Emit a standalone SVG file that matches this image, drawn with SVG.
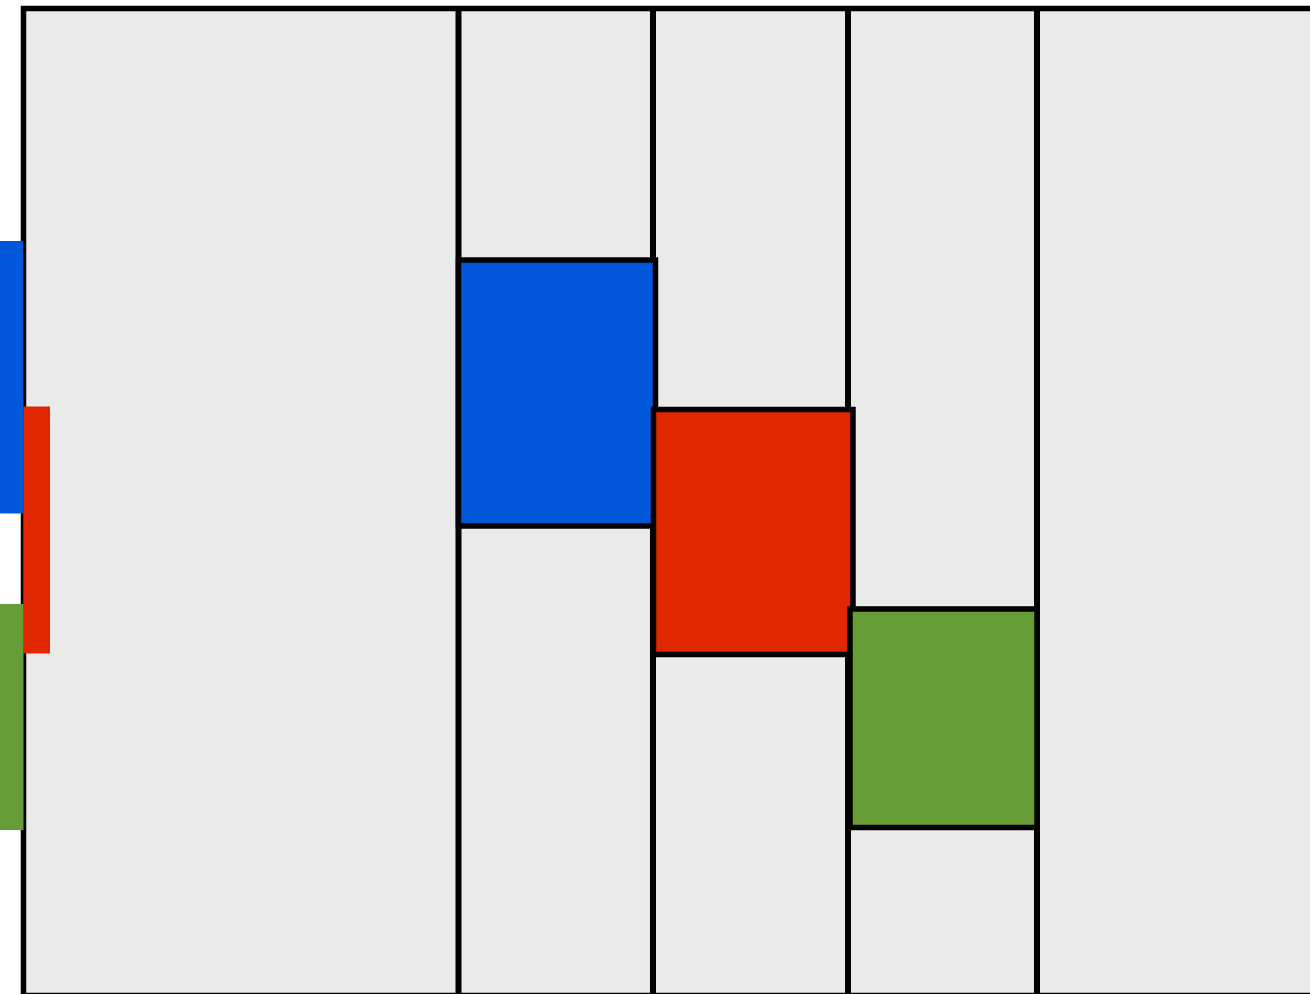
<svg xmlns="http://www.w3.org/2000/svg" width="1310" height="994" viewBox="0 0 1310 994">
<style>
.ln{stroke:#000;stroke-width:6;fill:none}
.box{stroke:#000;stroke-width:5.5}
</style>
<rect width="1310" height="994" fill="#fff"/>
<g id="frame">
<rect x="23.5" y="8.5" width="1300" height="987" fill="#eaeaea" class="box"/>
</g>
<g id="connectors">
<line class="ln" x1="458.5" y1="8" x2="458.5" y2="1000"/>
<line class="ln" x1="653" y1="8" x2="653" y2="1000"/>
<line class="ln" x1="848" y1="8" x2="848" y2="1000"/>
<line class="ln" x1="1037" y1="8" x2="1037" y2="1000"/>
</g>
<g id="blue-box"><rect class="box" x="458.5" y="260" width="197" height="266" fill="#0057d9"/></g>
<g id="red-box"><rect class="box" x="653.5" y="409.5" width="199.5" height="245" fill="#e02700"/></g>
<g id="green-box"><rect class="box" x="850" y="609" width="187" height="218.5" fill="#679d37"/></g>
<g id="blue-bar"><rect x="0" y="241" width="23.3" height="272.5" fill="#0057d9"/></g>
<g id="red-bar"><rect x="23.3" y="406.5" width="26.7" height="247" fill="#e02700"/></g>
<g id="green-bar"><rect x="0" y="604" width="23.5" height="226" fill="#679d37"/></g>
</svg>
